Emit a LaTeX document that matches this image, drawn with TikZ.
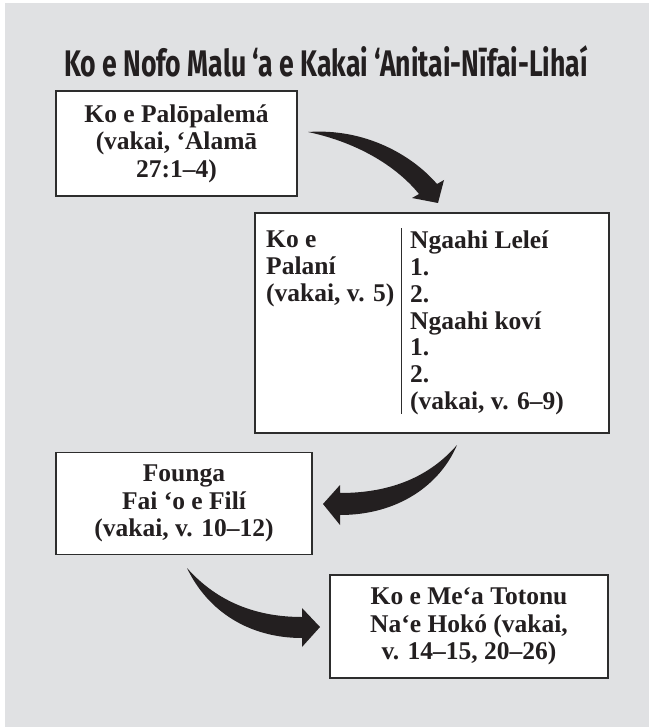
\documentclass[tikz,border=0pt]{standalone}
\usepackage{fontspec}
\usepackage{tikz}
\usetikzlibrary{positioning, calc}
\setmainfont{Liberation Serif}
\newfontfamily\titlefont[FakeStretch=0.72]{Fira Sans}
\definecolor{mygray}{RGB}{224,225,227}
\definecolor{mydark}{RGB}{35,31,32}
\definecolor{myline}{RGB}{45,45,45}
\tikzset{
  titletext/.style={font=\titlefont\bfseries\fontsize{37}{42}\selectfont,
    text=mydark, inner sep=0pt},
  box/.style={rectangle, draw=myline, fill=white, line width=1.3pt,
    align=center, text=mydark, inner sep=0pt,
    font=\bfseries\fontsize{25.5}{27.5}\selectfont},
  coltext/.style={align=left, text=mydark, inner sep=0pt, anchor=north west,
    font=\bfseries\fontsize{25.5}{26.7}\selectfont},
  fatarrow/.style={fill=mydark, draw=none}
}

\begin{document}
\begin{tikzpicture}[x=1pt, y=-1pt]
  \useasboundingbox (0,0) rectangle (649,727);
  \fill[mygray] (5,3) rectangle (649,727);

  % Title
  \node[titletext] (title) at (326,61) {Ko e Nofo Malu ‘a e Kakai ‘Anitai-Nīfai-Lihaí};

  % Boxes
  \node[box, minimum width=241pt, minimum height=105pt] (problem) at (176.5,143.5)
    {Ko e Palōpalemá\\(vakai, ‘Alamā\\27:1–4)};
  \node[box, minimum width=354pt, minimum height=220pt] (plan) at (432,323) {};
  \node[coltext] (planleft) at (266,231) {Ko e\\Palaní\\(vakai, v. 5)};
  \node[coltext] (planright) at (410,231)
    {Ngaahi Leleí\\1.\\2.\\Ngaahi koví\\1.\\2.\\(vakai, v. 6–9)};
  \draw[myline, line width=1pt] (401,228) -- (401,414);
  \node[box, minimum width=256pt, minimum height=102pt] (decide) at (184,503.5)
    {Founga\\Fai ‘o e Filí\\(vakai, v. 10–12)};
  \node[box, minimum width=278pt, minimum height=103pt] (result) at (469,626.5)
    {Ko e Me‘a Totonu\\Na‘e Hokó (vakai,\\v. 14–15, 20–26)};

  % Arrows
  \fill[fatarrow] (308,132) .. controls (365,128) and (412,155) .. (437,184)
    -- (444,180) -- (438,203) -- (412,198) -- (419,194)
    .. controls (398,168) and (360,143) .. (308,132) -- cycle;
  \fill[fatarrow] (457,445) .. controls (430,476) and (392,493) .. (340,493)
    -- (340,485) -- (323,504) -- (340,525) -- (340,515)
    .. controls (398,515) and (440,485) .. (457,445) -- cycle;
  \fill[fatarrow] (187,568) .. controls (218,603) and (258,617) .. (302,617)
    -- (302,608) -- (320,627) -- (302,647) -- (302,638)
    .. controls (250,638) and (208,612) .. (187,568) -- cycle;
\end{tikzpicture}
\end{document}
